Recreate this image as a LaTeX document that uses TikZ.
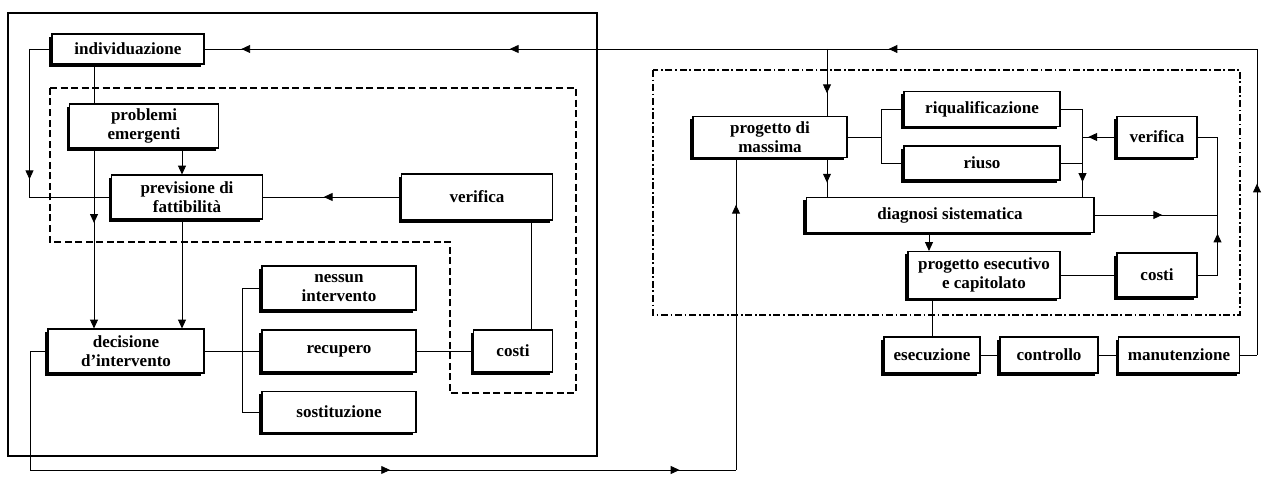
\documentclass[tikz,border=0pt]{standalone}
\usepackage{fontspec}
\setmainfont{Liberation Serif}
\usetikzlibrary{arrows.meta, positioning, shadows, decorations.markings, backgrounds, calc}

\begin{document}
\begin{tikzpicture}[x=0.02cm, y=-0.02cm,
  box/.style={draw, line width=0.6pt, fill=white, align=center, inner sep=1pt,
              font=\bfseries\fontsize{9.7}{10.8}\selectfont,
              drop shadow={shadow xshift=-1.6pt, shadow yshift=-1.7pt, fill=black, opacity=1}},
  link/.style={line width=0.5pt},
  flow/.style={link, -{Triangle[length=5pt, width=4.5pt]}},
  midtip/.style={postaction={decorate, decoration={markings,
      mark=at position #1 with {\arrow{Triangle[length=5pt, width=4.5pt]}}}}},
  frame/.style={line width=0.8pt},
  zone/.style={line width=0.9pt, dash pattern=on 4pt off 2pt},
  zonedd/.style={line width=0.9pt, dash pattern=on 4pt off 1.5pt on 1pt off 1.5pt}
]
  \useasboundingbox (0,0) rectangle (1262,482);

  % left block
  \node[box, minimum width=3.04cm, minimum height=0.6cm] (indiv) at (128,49) {individuazione};
  \node[box, minimum width=2.98cm, minimum height=0.88cm] (probl) at (144,126) {problemi\\emergenti};
  \node[box, minimum width=3.02cm, minimum height=0.88cm] (prev) at (187,197) {previsione di\\fattibilità};
  \node[box, minimum width=3.02cm, minimum height=0.92cm] (verL) at (477,197) {verifica};
  \node[box, minimum width=3.12cm, minimum height=0.88cm] (decis) at (126,351) {decisione\\d'intervento};
  \node[box, minimum width=3.08cm, minimum height=0.88cm] (nessun) at (339,288) {nessun\\intervento};
  \node[box, minimum width=3.08cm, minimum height=0.84cm] (recup) at (339,351) {recupero};
  \node[box, minimum width=3.08cm, minimum height=0.82cm] (sostit) at (339,412) {sostituzione};
  \node[box, minimum width=1.58cm, minimum height=0.84cm] (costiL) at (513,351) {costi};

  % right block
  \node[box, minimum width=3.08cm, minimum height=0.82cm] (progM) at (770,137) {progetto di\\massima};
  \node[box, minimum width=3.12cm, minimum height=0.7cm] (riq) at (982,109) {riqualificazione};
  \node[box, minimum width=3.12cm, minimum height=0.68cm] (riuso) at (982,163) {riuso};
  \node[box, minimum width=1.6cm, minimum height=0.82cm] (verR) at (1157,137) {verifica};
  \node[box, minimum width=5.76cm, minimum height=0.7cm] (diag) at (950,215) {diagnosi sistematica};
  \node[box, minimum width=3.04cm, minimum height=0.94cm] (progE) at (984,275) {progetto esecutivo\\e capitolato};
  \node[box, minimum width=1.6cm, minimum height=0.88cm] (costiR) at (1157,275) {costi};
  \node[box, minimum width=1.92cm, minimum height=0.72cm] (esec) at (932,355) {esecuzione};
  \node[box, minimum width=1.96cm, minimum height=0.72cm] (contr) at (1049,355) {controllo};
  \node[box, minimum width=2.42cm, minimum height=0.72cm] (manut) at (1179,355) {manutenzione};

  \begin{scope}[on background layer]
    % frames
    \draw[frame] (8,13) rectangle (597,456);
    \draw[zone] (50,88) -- (576,88) -- (576,393) -- (450,393) -- (450,242) -- (50,242) -- cycle;
    \draw[zonedd] (653,70) rectangle (1240,315);

    \coordinate (ne) at (1257,49);
    \coordinate (bl) at (30,470);
    \coordinate (lw) at ([xshift=-0.44cm]indiv.west);
    \coordinate (v1) at ([xshift=-0.68cm]indiv.south);
    \coordinate (v2) at ([xshift=-0.1cm]prev.north);
    \coordinate (v3) at ([xshift=0.36cm]costiL.north);
    \coordinate (br1) at ([xshift=-0.38cm]recup.west);
    \coordinate (pmA) at ([xshift=1.14cm]progM.south);
    \coordinate (pmB) at ([xshift=-0.68cm]progM.south);
    \coordinate (br2) at ([xshift=-0.44cm]riq.west);
    \coordinate (cl) at ([xshift=0.44cm]riq.east);
    \coordinate (rv) at ([xshift=0.4cm]verR.east);
    \coordinate (v4) at ([xshift=-0.42cm]diag.south);

    % feedback loop along the top
    \draw[link] (manut.east) -- (manut.east -| ne);
    \draw[link, midtip=0.56] (manut.east -| ne) -- (ne);
    \draw[link, midtip=0.35, midtip=0.71, midtip=0.965] (ne) -- (indiv.east);
    \draw[link, midtip=0.66] (pmA |- ne) -- (pmA |- progM.north);
    \draw[link, midtip=0.63] (pmA) -- (pmA |- diag.north);

    % left connectors
    \draw[link] (indiv.west) -- (lw);
    \draw[link, midtip=0.88] (lw) -- (lw |- prev.west);
    \draw[link] (lw |- prev.west) -- (prev.west);
    \draw[flow, midtip=0.6] (v1) -- (v1 |- decis.north);
    \draw[flow] (v2 |- probl.south) -- (v2);
    \draw[flow] (v2 |- prev.south) -- (v2 |- decis.north);
    \draw[link, midtip=0.56] (verL.west) -- (prev.east);
    \draw[link] (v3 |- verL.south) -- (v3);
    \draw[link] (decis.east) -- (recup.west);
    \draw[link] (nessun.west) -| (br1) |- (sostit.west);
    \draw[link] (recup.east) -- (costiL.west);
    \draw[link] (decis.west) -| (bl);
    \draw[link, midtip=0.51, midtip=0.92] (bl) -- (bl -| pmB);
    \draw[link, midtip=0.85] (bl -| pmB) -- (pmB);

    % right connectors
    \draw[link] (progM.east) -- (progM.east -| br2);
    \draw[link] (riq.west) -| (br2) |- (riuso.west);
    \draw[link] (riq.east) -- (cl);
    \draw[link, midtip=0.83] (cl) -- (cl |- diag.north);
    \draw[link] (riuso.east) -- (riuso.east -| cl);
    \draw[link, midtip=0.83] (verR.west) -- (verR.west -| cl);
    \draw[link, midtip=0.55] (diag.east) -- (diag.east -| rv);
    \draw[link] (costiR.east) -- (costiR.east -| rv);
    \draw[link, midtip=0.3] (costiR.east -| rv) -- (rv);
    \draw[link] (rv) -- (verR.east);
    \draw[flow] (v4) -- (v4 |- progE.north);
    \draw[link] (progE.east) -- (costiR.west);
    \draw[link] (esec.north |- progE.south) -- (esec.north);
    \draw[link] (esec.east) -- (contr.west);
    \draw[link] (contr.east) -- (manut.west);
  \end{scope}
\end{tikzpicture}
\end{document}
